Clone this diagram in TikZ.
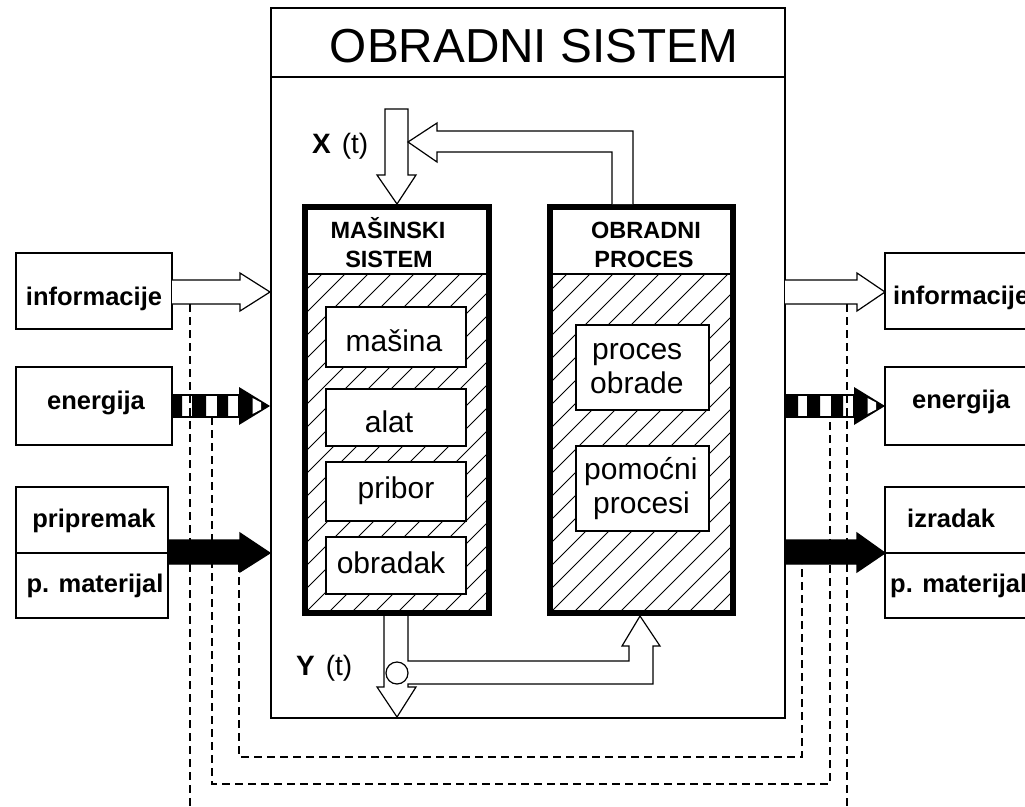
\documentclass[tikz,border=0pt]{standalone}
\usepackage{fontspec}
\setmainfont{Liberation Sans}
\begin{document}
\begin{tikzpicture}[x=1pt,y=-1pt,
  frame/.style={draw=black,line width=1.3pt},
  heavy/.style={draw=black,line width=6pt,inner sep=0pt},
  box/.style={draw=black,line width=1.3pt,fill=white,inner sep=0pt},
  lab/.style={font=\fontsize{25.5}{30}\selectfont\bfseries,inner sep=0pt,anchor=base},
  labw/.style={font=\fontsize{25.5}{30}\selectfont\bfseries,inner sep=0pt,anchor=base west},
  inlab/.style={font=\fontsize{30}{34}\selectfont,inner sep=0pt,anchor=base},
  inlabw/.style={font=\fontsize{30}{34}\selectfont,inner sep=0pt,anchor=base west},
  hdr/.style={font=\fontsize{23.5}{28}\selectfont\bfseries,inner sep=0pt,anchor=base},
  sig/.style={font=\fontsize{28}{32}\selectfont,inner sep=0pt,anchor=base west},
  hollow/.style={draw=black,line width=1.2pt,fill=white,line join=miter},
  solid/.style={draw=black,line width=1.2pt,fill=black,line join=miter},
  guide/.style={draw=black,line width=1.2pt,dash pattern=on 8pt off 5pt},
  hatchline/.style={draw=black,line width=0.8pt},
]
\useasboundingbox (0,0) rectangle (1025,806);

% ---------- outer system box ----------
\node[frame,inner sep=0pt,minimum width=514pt,minimum height=710pt] (sys) at (528,363) {};
\draw[frame] (271,77) -- (785,77);
\node[font=\fontsize{47.7}{56}\selectfont,inner sep=0pt,anchor=base] (title) at (534,62) {OBRADNI SISTEM};

% ---------- hatching ----------
\begin{scope}
  \clip (305,274) rectangle (489,613);
  \foreach \k in {0,...,25} \draw[hatchline] (-40+\k*23,613) -- ++(345,-345);
\end{scope}
\begin{scope}
  \clip (550,274) rectangle (733,613);
  \foreach \k in {0,...,25} \draw[hatchline] (205+\k*23,613) -- ++(345,-345);
\end{scope}

% ---------- machine system ----------
\node[heavy,minimum width=184pt,minimum height=406pt] (mach) at (397,410) {};
\draw[frame] (305,274) -- (489,274);
\node[hdr] (machA) at (388,238) {MAŠINSKI};
\node[hdr] (machB) at (389,267) {SISTEM};
\node[box,minimum width=140pt,minimum height=60pt] (masina) at (396,337) {};
\node[box,minimum width=140pt,minimum height=57pt] (alat) at (396,417.5) {};
\node[box,minimum width=140pt,minimum height=59pt] (pribor) at (396,491.5) {};
\node[box,minimum width=140pt,minimum height=57pt] (obradak) at (396,565.5) {};
\node[inlab] (masinaT) at (394,351) {mašina};
\node[inlab] (alatT) at (389,432) {alat};
\node[inlab] (priborT) at (396,498) {pribor};
\node[inlab] (obradakT) at (391,573) {obradak};

% ---------- process ----------
\node[heavy,minimum width=183pt,minimum height=406pt] (proc) at (641.5,410) {};
\draw[frame] (550,274) -- (733,274);
\node[hdr] (procA) at (646,238) {OBRADNI};
\node[hdr] (procB) at (644,267) {PROCES};
\node[box,minimum width=133pt,minimum height=85pt] (pobr) at (642.5,367.5) {};
\node[box,minimum width=133pt,minimum height=85pt] (ppom) at (642.5,488.5) {};
\node[inlabw] (pobrA) at (592,359) {proces};
\node[inlabw] (pobrB) at (590,393) {obrade};
\node[inlabw] (ppomA) at (584,479) {pomoćni};
\node[inlabw] (ppomB) at (593,513) {procesi};

% ---------- X(t) input and feedback ----------
\draw[hollow] (385,109) -- (408,109) -- (408,175) -- (416,175) -- (397,204) -- (377,175) -- (385,175) -- cycle;
\draw[hollow] (612,204) -- (612,152) -- (437,152) -- (437,162) -- (408,142) -- (437,123) -- (437,131) -- (633,131) -- (633,204);
\node[sig] (xt) at (312,153) {\bfseries X\hspace{11pt}\mdseries(t)};

% ---------- Y(t) output and branch ----------
\draw[hollow] (384,616) -- (384,687) -- (377,687) -- (397,717) -- (416,687) -- (408,687) -- (408,684)
  -- (653,684) -- (653,646) -- (660,646) -- (640,616) -- (622,646) -- (629,646) -- (629,661) -- (408,661) -- (408,616);
\node[draw=black,line width=1.2pt,fill=white,circle,inner sep=0pt,minimum size=22pt] (branch) at (397,673) {};
\node[sig] (yt) at (296,675) {\bfseries Y\hspace{11pt}\mdseries(t)};

% ---------- left boxes ----------
\node[box,minimum width=156pt,minimum height=76pt] (infoL) at (94,291) {};
\node[box,minimum width=156pt,minimum height=78pt] (enL) at (94,406) {};
\node[box,minimum width=152pt,minimum height=131pt] (matL) at (92,552.5) {};
\draw[frame] (16,553) -- (168,553);
\node[lab] (infoLT) at (94,305) {informacije};
\node[lab] (enLT) at (96,409) {energija};
\node[lab] (matLA) at (94,527) {pripremak};
\node[lab] (matLB) at (95,592) {p. materijal};

% ---------- right boxes ----------
\node[box,minimum width=160pt,minimum height=76pt] (infoR) at (965,291) {};
\node[box,minimum width=160pt,minimum height=78pt] (enR) at (965,406) {};
\node[box,minimum width=160pt,minimum height=131pt] (matR) at (965,552.5) {};
\draw[frame] (885,553) -- (1045,553);
\node[labw] (infoRT) at (893,304) {informacije};
\node[labw] (enRT) at (912,408) {energija};
\node[labw] (matRA) at (907,527) {izradak};
\node[labw] (matRB) at (890,592) {p. materijal};

% ---------- left arrows ----------
\draw[hollow] (172,280) -- (240,280) -- (240,273) -- (270,292) -- (240,311) -- (240,304) -- (172,304);
% energy
\draw[frame,fill=white] (172,395) rectangle (239,417);
\fill[black] (172,395) rectangle (182,417) (192,395) rectangle (206,417) (217,395) rectangle (228,417);
\fill[black] (239,387) -- (270,406) -- (239,425) -- cycle;
\fill[white] (252.5,398) -- (261,402.5) -- (261,409.5) -- (252.5,414) -- cycle;
% material
\draw[solid] (168,540) -- (240,540) -- (240,533) -- (270,553) -- (240,572) -- (240,564) -- (168,564);

% ---------- right arrows ----------
\draw[hollow] (785,280) -- (857,280) -- (857,273) -- (885,292) -- (857,311) -- (857,304) -- (785,304);
\draw[frame,fill=white] (785,395) rectangle (854,417);
\fill[black] (785,395) rectangle (798,417) (807,395) rectangle (820,417) (831,395) rectangle (843,417);
\fill[black] (854,387) -- (885,406) -- (854,425) -- cycle;
\fill[white] (867.5,398) -- (876,402.5) -- (876,409.5) -- (867.5,414) -- cycle;
\draw[solid] (785,540) -- (857,540) -- (857,533) -- (885,553) -- (857,572) -- (857,564) -- (785,564);

% ---------- dashed return paths ----------
\coordinate (gInfoL) at (190,304);
\coordinate (gInfoR) at (847,304);
\coordinate (gEnL) at (212,417);
\coordinate (gEnR) at (830,417);
\coordinate (gMatL) at (239,564);
\coordinate (gMatR) at (802,564);
\draw[guide] (gInfoL) -- (190,815);
\draw[guide] (gInfoR) -- (847,815);
\draw[guide] (gEnL) -- (212,784) -- (830,784) -- (gEnR);
\draw[guide] (gMatL) -- (239,757) -- (802,757) -- (gMatR);
\end{tikzpicture}
\end{document}
